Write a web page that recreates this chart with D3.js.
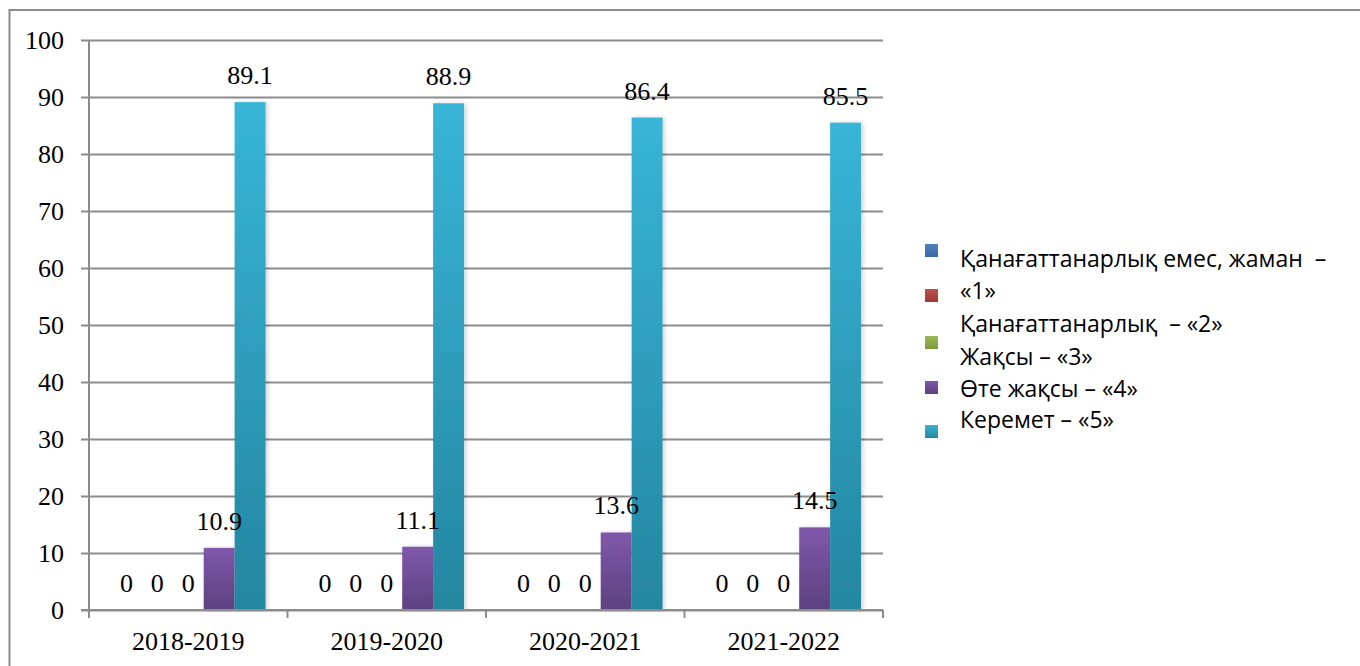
<!DOCTYPE html>
<html>
<head>
<meta charset="utf-8">
<script src="https://cdn.jsdelivr.net/npm/d3@7"></script>
<style>
  body { margin: 0; background: #fff; }
  svg { display: block; }
</style>
</head>
<body>
<div id="chart"></div>
<script>
// data
const years = ["2018-2019", "2019-2020", "2020-2021", "2021-2022"];
const seriesNames = [
  "Қанағаттанарлық емес, жаман  –",
  "Қанағаттанарлық  – «2»",
  "Жақсы – «3»",
  "Өте жақсы – «4»",
  "Керемет – «5»"
];
const grade1 = [0, 0, 0, 0];
const grade2 = [0, 0, 0, 0];
const grade3 = [0, 0, 0, 0];
const grade4 = [10.9, 11.1, 13.6, 14.5];
const grade5 = [89.1, 88.9, 86.4, 85.5];
const yTicks = [0, 10, 20, 30, 40, 50, 60, 70, 80, 90, 100];

const series = [grade1, grade2, grade3, grade4, grade5];
// top / bottom gradient colours per series
const colors = [
  ["#4f81bd", "#3a6aa3"],
  ["#c0504d", "#9e3a37"],
  ["#9bbb59", "#7a9a3e"],
  ["#7f58aa", "#5d4180"],
  ["#38b5d7", "#2486a0"]
];

const width = 1360, height = 666;
const margin = {left: 89, right: 883, top: 40, bottom: 610};
const serif = "'Liberation Serif', 'Times New Roman', serif";

const svg = d3.select("#chart").append("svg")
  .attr("width", width)
  .attr("height", height);

const defs = svg.append("defs");
colors.forEach((c, i) => {
  const g = defs.append("linearGradient")
    .attr("id", "grad" + i)
    .attr("x1", 0).attr("y1", 0).attr("x2", 0).attr("y2", 1);
  g.append("stop").attr("offset", "0%").attr("stop-color", c[0]);
  g.append("stop").attr("offset", "100%").attr("stop-color", c[1]);
});
const shadow = defs.append("filter").attr("id", "shadow")
  .attr("x", "-20%").attr("y", "-5%").attr("width", "160%").attr("height", "110%");
shadow.append("feDropShadow").attr("dx", 2).attr("dy", 0).attr("stdDeviation", 2)
  .attr("flood-color", "#000").attr("flood-opacity", 0.18);

// outer frame (cut off on the right and bottom like the reference)
svg.append("rect")
  .attr("x", 9.5).attr("y", 10)
  .attr("width", 1400).attr("height", 700)
  .attr("fill", "none")
  .attr("stroke", "#8c8c8c")
  .attr("stroke-width", 2);

const x = d3.scaleBand()
  .domain(years)
  .range([margin.left, margin.right]);

const xInner = d3.scaleBand()
  .domain(d3.range(series.length))
  .range([0, x.bandwidth()])
  .paddingOuter(0.71);

const y = d3.scaleLinear()
  .domain([0, 100])
  .range([margin.bottom, margin.top]);

// gridlines + y axis
const yAxis = d3.axisLeft(y)
  .tickValues(yTicks)
  .tickSize(-(margin.right - margin.left) - 8)
  .tickPadding(18)
  .tickFormat(d3.format("d"));

const gy = svg.append("g")
  .attr("transform", `translate(${margin.left - 8},0)`)
  .call(yAxis);
gy.select(".domain").remove();
gy.selectAll(".tick line")
  .attr("stroke", "#8c8c8c")
  .attr("stroke-width", 2);
gy.selectAll(".tick text")
  .attr("x", -17)
  .attr("font-family", serif)
  .attr("font-size", 26)
  .attr("fill", "#000");

svg.append("line")
  .attr("x1", margin.left).attr("x2", margin.left)
  .attr("y1", margin.top).attr("y2", margin.bottom + 8)
  .attr("stroke", "#8c8c8c")
  .attr("stroke-width", 2);

// x axis
const xAxis = d3.axisBottom(x)
  .tickSize(0)
  .tickPadding(22);
const gx = svg.append("g")
  .attr("transform", `translate(0,${margin.bottom})`)
  .call(xAxis);
gx.select(".domain").remove();
gx.selectAll(".tick text")
  .attr("font-family", serif)
  .attr("font-size", 26)
  .attr("fill", "#000");

// category separators on the x axis
svg.append("g").selectAll("line")
  .data(years.concat(["end"]))
  .join("line")
  .attr("x1", (d, i) => margin.left + i * x.bandwidth())
  .attr("x2", (d, i) => margin.left + i * x.bandwidth())
  .attr("y1", margin.bottom)
  .attr("y2", margin.bottom + 8)
  .attr("stroke", "#8c8c8c")
  .attr("stroke-width", 2);

// bars
const groups = svg.append("g").selectAll("g")
  .data(years)
  .join("g")
  .attr("transform", d => `translate(${x(d)},0)`);

groups.selectAll("rect")
  .data((d, i) => series.map((s, k) => ({k, v: s[i]})))
  .join("rect")
  .filter(d => d.v > 0)
  .attr("x", d => xInner(d.k))
  .attr("width", xInner.bandwidth())
  .attr("y", d => y(d.v))
  .attr("height", d => y(0) - y(d.v))
  .attr("fill", d => `url(#grad${d.k})`)
  .attr("filter", "url(#shadow)");

// x axis line drawn on top of the bars
svg.append("line")
  .attr("x1", margin.left - 8).attr("x2", margin.right)
  .attr("y1", margin.bottom).attr("y2", margin.bottom)
  .attr("stroke", "#8c8c8c")
  .attr("stroke-width", 2);

// value labels
groups.selectAll("text.val")
  .data((d, i) => series.map((s, k) => ({k, v: s[i]})))
  .join("text")
  .attr("class", "val")
  .attr("x", d => xInner(d.k) + xInner.bandwidth() / 2)
  .attr("y", d => y(d.v) - 18)
  .attr("text-anchor", "middle")
  .attr("font-family", serif)
  .attr("font-size", 26)
  .attr("fill", "#000")
  .text(d => d.v);

// legend
const legend = svg.append("g");
const boxY = [244, 289, 336, 381, 425];
legend.selectAll("rect")
  .data(colors)
  .join("rect")
  .attr("x", 925)
  .attr("y", (d, i) => boxY[i])
  .attr("width", 13)
  .attr("height", 13)
  .attr("fill", (d, i) => `url(#grad${i})`);

const legendLines = [seriesNames[0], "«1»", seriesNames[1], seriesNames[2], seriesNames[3], seriesNames[4]];
const lineY = [267, 299, 332, 365, 397, 428];
legend.selectAll("text")
  .data(legendLines)
  .join("text")
  .attr("x", 960)
  .attr("y", (d, i) => lineY[i])
  .attr("font-family", "'Open Sans', 'Noto Sans', sans-serif")
  .attr("font-size", 23)
  .attr("fill", "#000")
  .style("white-space", "pre")
  .text(d => d);
</script>
</body>
</html>
